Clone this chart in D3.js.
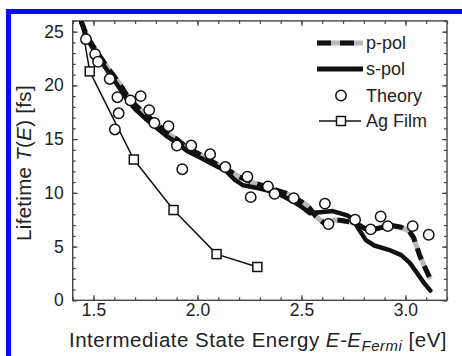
<!DOCTYPE html>
<html>
<head>
<meta charset="utf-8">
<script src="https://cdn.jsdelivr.net/npm/d3@7"></script>
<style>
html,body{margin:0;padding:0;background:#fff;}
svg{display:block;}
text{font-family:"Liberation Sans",Arial,sans-serif;fill:#222;}
</style>
</head>
<body>
<svg id="chart" width="462" height="356"></svg>
<script>
// ---- data ----
const theoryX = [1.464,1.508,1.522,1.578,1.603,1.615,1.621,1.678,1.727,1.768,1.793,1.861,1.901,1.927,1.970,2.061,2.134,2.240,2.256,2.339,2.371,2.463,2.613,2.630,2.758,2.833,2.881,2.915,3.035,3.112];
const theoryY = [24.3,22.9,22.2,20.6,15.9,18.9,17.4,18.6,19.0,17.7,16.5,16.2,14.4,12.2,14.4,13.6,12.4,11.5,9.6,10.6,9.9,9.5,9.0,7.1,7.5,6.6,7.8,6.9,6.9,6.1];

const agX = [1.435,1.482,1.694,1.885,2.092,2.288];
const agY = [26.6,21.3,13.1,8.4,4.3,3.1];

const sX = [1.44,1.47,1.52,1.57,1.62,1.66,1.70,1.75,1.80,1.85,1.89,1.95,2.01,2.08,2.14,2.18,2.22,2.30,2.38,2.46,2.50,2.54,2.59,2.65,2.72,2.745,2.78,2.81,2.85,2.92,2.98,3.02,3.05,3.09,3.12];
const sY = [26.0,24.3,22.7,21.3,19.9,18.7,17.8,16.9,16.1,15.3,14.8,13.9,13.3,12.6,12.0,11.2,10.7,10.4,10.0,9.2,8.7,8.1,8.2,8.3,7.9,7.6,6.5,5.6,5.1,4.7,4.2,3.5,2.7,1.6,0.9];

const pX = [1.44,1.47,1.52,1.57,1.62,1.66,1.70,1.75,1.80,1.85,1.90,1.95,2.01,2.08,2.14,2.20,2.26,2.34,2.42,2.48,2.53,2.57,2.62,2.66,2.70,2.76,2.82,2.87,2.92,2.98,3.02,3.04,3.07,3.10,3.12];
const pY = [26.0,24.5,23.0,21.6,20.3,19.1,18.2,17.3,16.5,15.6,15.0,14.2,13.6,12.8,12.2,11.5,11.0,10.5,10.0,9.4,8.8,7.8,7.0,7.5,7.4,7.2,6.5,6.7,7.0,6.8,6.4,5.8,4.1,2.8,2.0];

const xMajor = [1.5,2.0,2.5,3.0];
const yMajor = [0,5,10,15,20,25];
const legendLabels = ["p-pol","s-pol","Theory","Ag Film"];

// ---- layout ----
const svg = d3.select("#chart");
const L = 72.7, R = 447, T = 20.9, B = 300.3;
const x = d3.scaleLinear().domain([1.4,3.2]).range([L,R]);
const y = d3.scaleLinear().domain([0,26]).range([B,T]);

// blue frame
svg.append("rect").attr("x",8.5).attr("y",11.5).attr("width",470).attr("height",360)
  .attr("fill","none").attr("stroke","#0a0aff").attr("stroke-width",5);

svg.append("defs").append("clipPath").attr("id","clip")
  .append("rect").attr("x",L).attr("y",T).attr("width",R-L).attr("height",B-T);

const xMinor = d3.range(14,33).map(d=>d/10);
const yMinor = d3.range(0,27);

function styleAxis(g){
  g.select(".domain").remove();
  g.selectAll("line").attr("stroke","#444").attr("stroke-width",1.2);
  g.selectAll("text").attr("font-size",17.5).attr("fill","#222");
}
// minor ticks
svg.append("g").attr("transform",`translate(0,${B})`)
  .call(d3.axisBottom(x).tickValues(xMinor).tickSize(-3).tickFormat("")).call(styleAxis);
svg.append("g").attr("transform",`translate(0,${T})`)
  .call(d3.axisTop(x).tickValues(xMinor).tickSize(-3).tickFormat("")).call(styleAxis);
svg.append("g").attr("transform",`translate(${L},0)`)
  .call(d3.axisLeft(y).tickValues(yMinor).tickSize(-3).tickFormat("")).call(styleAxis);
svg.append("g").attr("transform",`translate(${R},0)`)
  .call(d3.axisRight(y).tickValues(yMinor).tickSize(-3).tickFormat("")).call(styleAxis);
// major ticks
svg.append("g").attr("transform",`translate(0,${B})`)
  .call(d3.axisBottom(x).tickValues(xMajor).tickSize(-5).tickPadding(3.5).tickFormat(d3.format(".1f"))).call(styleAxis);
svg.append("g").attr("transform",`translate(0,${T})`)
  .call(d3.axisTop(x).tickValues(xMajor).tickSize(-5).tickFormat("")).call(styleAxis);
svg.append("g").attr("transform",`translate(${L},0)`)
  .call(d3.axisLeft(y).tickValues(yMajor).tickSize(-5).tickPadding(9).tickFormat(d3.format("d"))).call(styleAxis);
svg.append("g").attr("transform",`translate(${R},0)`)
  .call(d3.axisRight(y).tickValues(yMajor).tickSize(-5).tickFormat("")).call(styleAxis);

// frame
svg.append("rect").attr("x",L).attr("y",T).attr("width",R-L).attr("height",B-T)
  .attr("fill","none").attr("stroke","#444").attr("stroke-width",1.4);

const plot = svg.append("g").attr("clip-path","url(#clip)");
const line = d3.line().x(d=>x(d[0])).y(d=>y(d[1]));
const pData = d3.zip(pX,pY), sData = d3.zip(sX,sY), agData = d3.zip(agX,agY), thData = d3.zip(theoryX,theoryY);

// p-pol: gray underlay + black dashes
plot.append("path").datum(pData).attr("d",line).attr("fill","none")
  .attr("stroke","#b8b8b8").attr("stroke-width",5).attr("stroke-linejoin","round");
plot.append("path").datum(pData).attr("d",line).attr("fill","none")
  .attr("stroke","#111").attr("stroke-width",5).attr("stroke-dasharray","12,7").attr("stroke-linejoin","round");
// s-pol
plot.append("path").datum(sData).attr("d",line).attr("fill","none")
  .attr("stroke","#111").attr("stroke-width",4.5).attr("stroke-linejoin","round").attr("stroke-linecap","round");
// Ag film
plot.append("path").datum(agData).attr("d",line).attr("fill","none")
  .attr("stroke","#111").attr("stroke-width",1.5);
plot.selectAll("rect.ag").data(agData).join("rect").attr("class","ag")
  .attr("x",d=>x(d[0])-4.5).attr("y",d=>y(d[1])-4.5).attr("width",9).attr("height",9)
  .attr("fill","#fff").attr("stroke","#111").attr("stroke-width",1.5);
// theory
plot.selectAll("circle.th").data(thData).join("circle").attr("class","th")
  .attr("cx",d=>x(d[0])).attr("cy",d=>y(d[1])).attr("r",5.2)
  .attr("fill","#fff").attr("stroke","#111").attr("stroke-width",1.5);

// legend
const lg = svg.append("g");
const ly = [43,69,95.5,121];
lg.append("line").attr("x1",317).attr("x2",363).attr("y1",ly[0]).attr("y2",ly[0])
  .attr("stroke","#b8b8b8").attr("stroke-width",5);
lg.append("line").attr("x1",317).attr("x2",363).attr("y1",ly[0]).attr("y2",ly[0])
  .attr("stroke","#111").attr("stroke-width",5).attr("stroke-dasharray","14,9");
lg.append("line").attr("x1",317).attr("x2",363).attr("y1",ly[1]).attr("y2",ly[1])
  .attr("stroke","#111").attr("stroke-width",5);
lg.append("circle").attr("cx",341).attr("cy",ly[2]).attr("r",5.2)
  .attr("fill","#fff").attr("stroke","#111").attr("stroke-width",1.5);
lg.append("line").attr("x1",319).attr("x2",361).attr("y1",ly[3]).attr("y2",ly[3])
  .attr("stroke","#111").attr("stroke-width",1.5);
lg.append("rect").attr("x",336.5).attr("y",ly[3]-4.5).attr("width",9).attr("height",9)
  .attr("fill","#fff").attr("stroke","#111").attr("stroke-width",1.5);
lg.selectAll("text").data(legendLabels).join("text")
  .attr("x",366).attr("y",(d,i)=>ly[i]).attr("dy","0.35em").attr("font-size",18).text(d=>d);

// axis titles
const xt = svg.append("text").attr("x",258).attr("y",347).attr("text-anchor","middle")
  .attr("font-size",20.5).attr("letter-spacing",0.5);
xt.append("tspan").text("Intermediate State Energy ");
xt.append("tspan").attr("font-style","italic").text("E-E");
xt.append("tspan").attr("font-style","italic").attr("font-size",15).attr("dy",4).text("Fermi");
xt.append("tspan").attr("dy",-4).text(" [eV]");

const yt = svg.append("text").attr("transform","translate(31,163) rotate(-90)").attr("text-anchor","middle")
  .attr("font-size",20.5).attr("letter-spacing",0.3);
yt.append("tspan").text("Lifetime ");
yt.append("tspan").attr("font-style","italic").text("T");
yt.append("tspan").text("(");
yt.append("tspan").attr("font-style","italic").text("E");
yt.append("tspan").text(") [fs]");
</script>
</body>
</html>
